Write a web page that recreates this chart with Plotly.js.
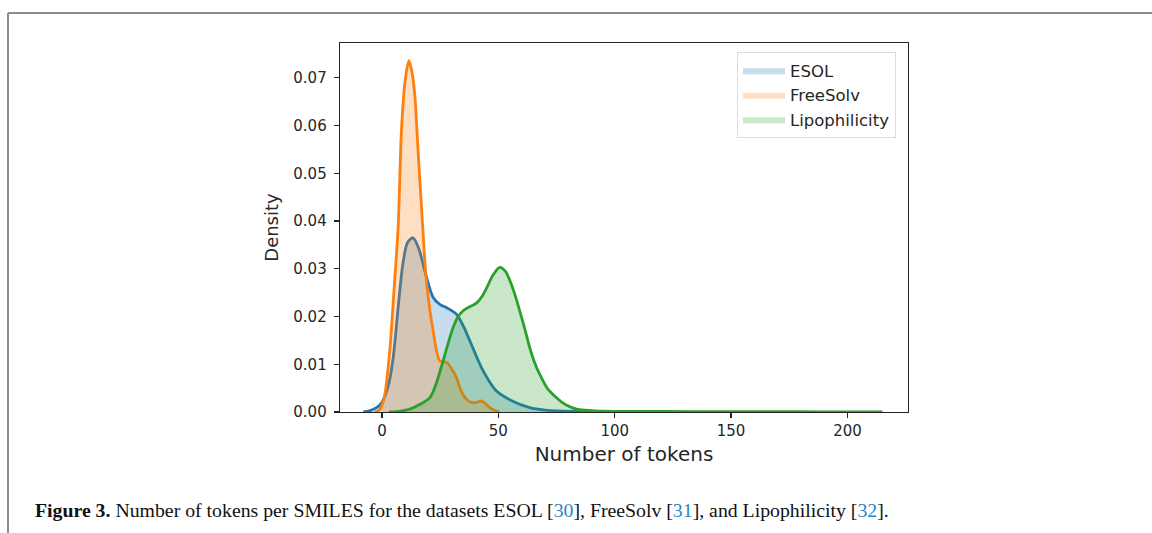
<!DOCTYPE html>
<html>
<head>
<meta charset="utf-8">
<script src="https://cdn.plot.ly/plotly-3.0.1.min.js"></script>
<style>
  html, body { margin: 0; padding: 0; background: #ffffff; }
  #chart { width: 1152px; height: 533px; }
</style>
</head>
<body>
<div id="chart"></div>
<script>
// ---- data ----
const seriesNames = ["ESOL", "FreeSolv", "Lipophilicity"];

const esolX = [-8, -5, -2, 0, 3, 5, 7, 9, 11, 13.4, 16, 19, 22, 25, 28, 32, 35, 39, 43.5, 49, 56, 63.5, 70, 78, 90, 110];
const esolY = [0, 0.0003, 0.001, 0.002, 0.006, 0.012, 0.022, 0.031, 0.0355, 0.0365, 0.034, 0.0285, 0.024, 0.0225, 0.0218, 0.0205, 0.018, 0.0135, 0.0086, 0.0045, 0.0023, 0.0009, 0.0004, 0.0002, 0.0001, 0.00003];

const freeX = [-3, -1, 1, 3.4, 5, 7, 8.4, 10, 11.6, 13, 14.2, 15.5, 17, 19.2, 22, 24.9, 27.8, 30, 32, 34, 36.3, 38.5, 40.6, 43, 45, 46.4, 48.5, 50.5];
const freeY = [0, 0.0005, 0.003, 0.013, 0.024, 0.039, 0.059, 0.0695, 0.0736, 0.071, 0.066, 0.055, 0.043, 0.027, 0.017, 0.0107, 0.0104, 0.009, 0.0072, 0.0045, 0.0027, 0.002, 0.002, 0.0023, 0.0015, 0.0009, 0.0003, 0];

const lipoX = [3, 8, 12, 16, 20.6, 23, 26.3, 28.5, 30.6, 32.5, 34.9, 37.5, 40.6, 43, 45, 47.5, 50.6, 53, 55, 57, 59.2, 61.5, 63.5, 65.5, 67.8, 71, 75, 79, 83.6, 90, 100, 120, 150, 180, 200, 215];
const lipoY = [0, 0.0002, 0.0006, 0.0015, 0.003, 0.0055, 0.0107, 0.0145, 0.0177, 0.0198, 0.0212, 0.022, 0.0228, 0.0242, 0.026, 0.0285, 0.0303, 0.0295, 0.0275, 0.0248, 0.0212, 0.0172, 0.0135, 0.0105, 0.0079, 0.005, 0.003, 0.0015, 0.0006, 0.0003, 0.00015, 0.0001, 0.00008, 0.00005, 0.00003, 0];

const xTickVals = [0, 50, 100, 150, 200];
const yTickVals = [0, 0.01, 0.02, 0.03, 0.04, 0.05, 0.06, 0.07];

const xTitle = "Number of tokens";
const yTitle = "Density";
const caption = "<b>Figure 3.</b> Number of tokens per SMILES for the datasets ESOL [<span style='color:#2a86c3'>30</span>], FreeSolv [<span style='color:#2a86c3'>31</span>], and Lipophilicity [<span style='color:#2a86c3'>32</span>].";

// ---- styling ----
const lineColors = ["#1f77b4", "#ff7f0e", "#2ca02c"];
const fillColors = ["rgba(31,119,180,0.25)", "rgba(255,127,14,0.25)", "rgba(44,160,44,0.25)"];
const xs = [esolX, freeX, lipoX];
const ys = [esolY, freeY, lipoY];

const traces = [];
for (let i = 0; i < 3; i++) {
  traces.push({
    x: xs[i], y: ys[i], type: "scatter", mode: "lines",
    name: seriesNames[i], fill: "tozeroy", fillcolor: fillColors[i],
    line: { width: 0, shape: "spline", smoothing: 0.8, color: fillColors[i] },
    showlegend: true, hoverinfo: "skip"
  });
  traces.push({
    x: xs[i], y: ys[i], type: "scatter", mode: "lines",
    name: seriesNames[i],
    line: { width: 2.8, shape: "spline", smoothing: 0.8, color: lineColors[i] },
    showlegend: false
  });
}

const textColor = "#262626";
const L = 340, R = 908, T = 43, B = 412, W = 1152, H = 533;
const px2x = p => (p - L) / (R - L);
const py2y = p => (B - p) / (B - T);

const layout = {
  width: W, height: H,
  margin: { l: L, r: W - R, t: T, b: H - B, pad: 0 },
  paper_bgcolor: "#ffffff", plot_bgcolor: "#ffffff",
  font: { family: "DejaVu Sans", color: textColor },
  showlegend: true,
  legend: {
    x: px2x(737), y: py2y(52), xanchor: "left", yanchor: "top",
    bgcolor: "rgba(255,255,255,0.8)", bordercolor: "#dcdcdc", borderwidth: 1,
    font: { family: "DejaVu Sans", size: 16.5, color: textColor },
    itemwidth: 42,
    traceorder: "normal"
  },
  xaxis: {
    range: [-18, 226], tickvals: xTickVals, ticktext: xTickVals.map(String),
    showgrid: false, zeroline: false, showline: true, mirror: true,
    linecolor: "#222", linewidth: 1.3, ticks: "outside", ticklen: 5, tickcolor: "#222", tickwidth: 1.2,
    tickfont: { family: "DejaVu Sans", size: 15, color: textColor },
    title: { text: xTitle, font: { family: "DejaVu Sans", size: 20, color: textColor }, standoff: 7 }
  },
  yaxis: {
    range: [0, 0.0773], tickvals: yTickVals, ticktext: yTickVals.map(v => v.toFixed(2)),
    showgrid: false, zeroline: false, showline: true, mirror: true,
    linecolor: "#222", linewidth: 1.3, ticks: "outside", ticklen: 5, tickcolor: "#222", tickwidth: 1.2,
    ticklabelstandoff: 4,
    tickfont: { family: "DejaVu Sans", size: 15, color: textColor },
    title: { text: yTitle, font: { family: "DejaVu Sans", size: 18, color: textColor }, standoff: 10 }
  },
  shapes: [
    { type: "line", xref: "paper", yref: "paper", x0: px2x(8), x1: px2x(1160), y0: py2y(13), y1: py2y(13),
      line: { color: "#8c8c8c", width: 2 } },
    { type: "line", xref: "paper", yref: "paper", x0: px2x(8), x1: px2x(8), y0: py2y(13), y1: py2y(540),
      line: { color: "#8c8c8c", width: 2 } }
  ],
  annotations: [
    { xref: "paper", yref: "paper", x: px2x(33), y: py2y(510), xanchor: "left", yanchor: "middle",
      showarrow: false, text: caption, align: "left",
      font: { family: "Liberation Serif", size: 19.8, color: "#111" } }
  ]
};

Plotly.newPlot("chart", traces, layout, { displayModeBar: false, staticPlot: true });
</script>
</body>
</html>
